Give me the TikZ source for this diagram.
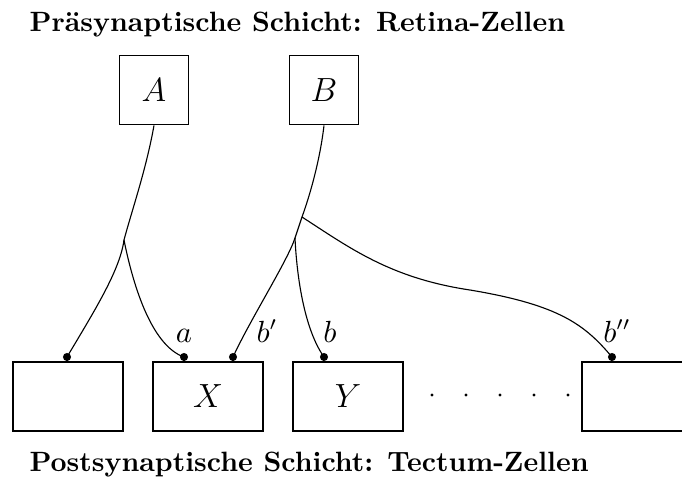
\documentclass[tikz,border=0pt]{standalone}
\usepackage{tikz}
\usetikzlibrary{positioning}

\tikzset{
  retina/.style={draw, thin, inner sep=0pt, minimum width=25pt, minimum height=25pt, font=\large},
  tectum/.style={draw, thin, inner sep=0pt, minimum width=39.4pt, minimum height=24.7pt, font=\large},
  syn/.style={circle, fill=black, inner sep=0pt, minimum size=2.9pt},
  lbl/.style={anchor=base, inner sep=0pt, font=\fontsize{10.5}{12}\selectfont},
  layer/.style={anchor=base west, inner sep=0pt, font=\bfseries},
  axon/.style={thin, black}
}

\begin{document}
\begin{tikzpicture}[x=0.358pt,y=-0.358pt]
\useasboundingbox (0,0) rectangle (682,478);

\node[layer] (pre) at (29,31) {Präsynaptische Schicht: Retina-Zellen};
\node[layer] (post) at (29,471) {Postsynaptische Schicht: Tectum-Zellen};

\node[retina] (A) at (154,90) {$A$};
\node[retina] (B) at (324,90) {$B$};

\node[tectum] (T1) at (68,396.5) {};
\node[tectum] (X) at (208,396.5) {$X$};
\node[tectum] (Y) at (348,396.5) {$Y$};
\node[tectum] (T4) at (637,396.5) {};

\foreach \x in {432,466,500,534,568}
  \fill (\x,395) circle (0.6pt);

\coordinate (ja) at (124,240);
\coordinate (jc) at (302,217);
\coordinate (jb) at (295,238);

\node[syn] (s1) at (67,357) {};
\node[syn] (sa) at (184,357) {};
\node[syn] (sb1) at (233,357) {};
\node[syn] (sb) at (324,357) {};
\node[syn] (sb2) at (612,357) {};

\draw[axon] (A.south) .. controls (146,170) and (132,210) .. (ja);
\draw[axon] (ja) .. controls (120,270) and (95,310) .. (s1.center);
\draw[axon] (ja) .. controls (132,280) and (150,345) .. (sa.center);

\draw[axon] (B.south) .. controls (320,160) and (310,195) .. (jc) -- (jb);
\draw[axon] (jb) .. controls (288,260) and (250,320) .. (sb1.center);
\draw[axon] (jb) .. controls (297,280) and (305,330) .. (sb.center);
\draw[axon] (jc) .. controls (350,248) and (390,278) .. (470,290)
  .. controls (560,305) and (585,325) .. (sb2.center);

\node[lbl] (la) at (184,342) {$a$};
\node[lbl] (lb1) at (267,342) {$b'$};
\node[lbl] (lb) at (330,342) {$b$};
\node[lbl] (lb2) at (617,342) {$b''$};

\end{tikzpicture}
\end{document}
